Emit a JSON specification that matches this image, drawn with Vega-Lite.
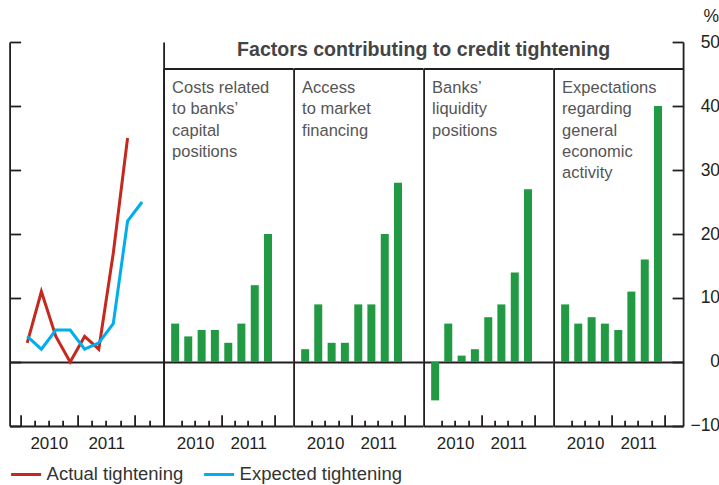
{
  "$schema": "https://vega.github.io/schema/vega-lite/v6.json",
  "padding": {"left": 8.6, "top": 7, "right": 0, "bottom": 0},
  "config": {
    "font": "Liberation Sans",
    "view": {"stroke": null},
    "axis": {"grid": false, "domainColor": "#231f20", "tickColor": "#231f20", "gridColor": "#231f20", "gridWidth": 1.8, "domainWidth": 1.8, "tickWidth": 1.8, "labelFont": "Liberation Sans", "labelFontSize": 17, "labelColor": "#231f20", "labelFlush": false, "labelOverlap": false}
  },
  "datasets": {
    "lines": [
      {"series": "Actual tightening", "date": "2010-02-15", "value": 3},
      {"series": "Actual tightening", "date": "2010-05-16", "value": 11},
      {"series": "Actual tightening", "date": "2010-08-16", "value": 4},
      {"series": "Actual tightening", "date": "2010-11-15", "value": 0},
      {"series": "Actual tightening", "date": "2011-02-15", "value": 4},
      {"series": "Actual tightening", "date": "2011-05-16", "value": 2},
      {"series": "Actual tightening", "date": "2011-08-16", "value": 17},
      {"series": "Actual tightening", "date": "2011-11-15", "value": 35},
      {"series": "Expected tightening", "date": "2010-02-15", "value": 4},
      {"series": "Expected tightening", "date": "2010-05-16", "value": 2},
      {"series": "Expected tightening", "date": "2010-08-16", "value": 5},
      {"series": "Expected tightening", "date": "2010-11-15", "value": 5},
      {"series": "Expected tightening", "date": "2011-02-15", "value": 2},
      {"series": "Expected tightening", "date": "2011-05-16", "value": 3},
      {"series": "Expected tightening", "date": "2011-08-16", "value": 6},
      {"series": "Expected tightening", "date": "2011-11-15", "value": 22},
      {"series": "Expected tightening", "date": "2012-02-15", "value": 25}
    ],
    "bars": [
      {"factor": "capital", "date": "2010-02-15", "value": 6},
      {"factor": "capital", "date": "2010-05-16", "value": 4},
      {"factor": "capital", "date": "2010-08-16", "value": 5},
      {"factor": "capital", "date": "2010-11-15", "value": 5},
      {"factor": "capital", "date": "2011-02-15", "value": 3},
      {"factor": "capital", "date": "2011-05-16", "value": 6},
      {"factor": "capital", "date": "2011-08-16", "value": 12},
      {"factor": "capital", "date": "2011-11-15", "value": 20},
      {"factor": "market", "date": "2010-02-15", "value": 2},
      {"factor": "market", "date": "2010-05-16", "value": 9},
      {"factor": "market", "date": "2010-08-16", "value": 3},
      {"factor": "market", "date": "2010-11-15", "value": 3},
      {"factor": "market", "date": "2011-02-15", "value": 9},
      {"factor": "market", "date": "2011-05-16", "value": 9},
      {"factor": "market", "date": "2011-08-16", "value": 20},
      {"factor": "market", "date": "2011-11-15", "value": 28},
      {"factor": "liquidity", "date": "2010-02-15", "value": -6},
      {"factor": "liquidity", "date": "2010-05-16", "value": 6},
      {"factor": "liquidity", "date": "2010-08-16", "value": 1},
      {"factor": "liquidity", "date": "2010-11-15", "value": 2},
      {"factor": "liquidity", "date": "2011-02-15", "value": 7},
      {"factor": "liquidity", "date": "2011-05-16", "value": 9},
      {"factor": "liquidity", "date": "2011-08-16", "value": 14},
      {"factor": "liquidity", "date": "2011-11-15", "value": 27},
      {"factor": "expectations", "date": "2010-02-15", "value": 9},
      {"factor": "expectations", "date": "2010-05-16", "value": 6},
      {"factor": "expectations", "date": "2010-08-16", "value": 7},
      {"factor": "expectations", "date": "2010-11-15", "value": 6},
      {"factor": "expectations", "date": "2011-02-15", "value": 5},
      {"factor": "expectations", "date": "2011-05-16", "value": 11},
      {"factor": "expectations", "date": "2011-08-16", "value": 16},
      {"factor": "expectations", "date": "2011-11-15", "value": 40}
    ]
  },
  "bounds": "flush",
  "spacing": 0,
  "hconcat": [
    {
      "width": 154,
      "height": 384,
      "layer": [
        {
          "data": {"name": "lines"},
          "mark": {"type": "point", "opacity": 0},
          "encoding": {
            "x": {"field": "date", "type": "temporal",
                  "scale": {"domain": [{"year": 2009, "month": 10, "date": 26, "utc": true}, {"year": 2012, "month": 7, "date": 1, "utc": true}], "nice": false},
                  "axis": {"orient": "bottom", "title": null, "labels": false, "domain": false, "tickSize": -11.3,
                           "values": [{"year": 2010, "month": 1, "date": 1, "utc": true}, {"year": 2011, "month": 1, "date": 1, "utc": true}, {"year": 2012, "month": 1, "date": 1, "utc": true}]}},
            "y": {"field": "value", "type": "quantitative", "scale": {"domain": [-10, 50], "nice": false, "zero": false},
                  "axis": {"orient": "right", "ticks": false, "labels": false, "domain": true, "title": null, "grid": true, "values": [0]}}
          }
        },
        {
          "data": {"name": "lines"},
          "mark": {"type": "line", "strokeWidth": 3},
          "encoding": {
            "x": {"field": "date", "type": "temporal",
                  "scale": {"domain": [{"year": 2009, "month": 10, "date": 26, "utc": true}, {"year": 2012, "month": 7, "date": 1, "utc": true}], "nice": false},
                  "axis": {"orient": "bottom", "title": null, "labels": false, "domain": true, "tickSize": -5.7,
                           "values": [{"year": 2010, "month": 4, "date": 1, "utc": true}, {"year": 2010, "month": 7, "date": 1, "utc": true}, {"year": 2010, "month": 10, "date": 1, "utc": true}, {"year": 2011, "month": 4, "date": 1, "utc": true}, {"year": 2011, "month": 7, "date": 1, "utc": true}, {"year": 2011, "month": 10, "date": 1, "utc": true}, {"year": 2012, "month": 4, "date": 1, "utc": true}]}},
            "y": {"field": "value", "type": "quantitative", "scale": {"domain": [-10, 50], "nice": false, "zero": false},
                  "axis": {"orient": "left", "title": null, "labels": false, "domain": true, "tickSize": -11, "values": [-10, 0, 10, 20, 30, 40, 50]}},
            "color": {"field": "series", "type": "nominal",
                      "scale": {"domain": ["Actual tightening", "Expected tightening"], "range": ["#c4281f", "#00aeef"]},
                      "legend": {"orient": "none", "legendX": 0, "legendY": 416, "direction": "horizontal", "title": null,
                                 "symbolType": "stroke", "symbolStrokeWidth": 3, "symbolSize": 900,
                                 "labelFontSize": 18.5, "labelColor": "#333333", "labelFont": "Liberation Sans", "labelLimit": 0,
                                 "columnPadding": 14, "labelOffset": 4}}
          }
        },
        {
          "data": {"name": "lines"},
          "mark": {"type": "point", "opacity": 0},
          "encoding": {
            "x": {"field": "date", "type": "temporal",
                  "scale": {"domain": [{"year": 2009, "month": 10, "date": 26, "utc": true}, {"year": 2012, "month": 7, "date": 1, "utc": true}], "nice": false},
                  "axis": {"orient": "bottom", "title": null, "ticks": false, "domain": false, "labelPadding": 10, "format": "%Y",
                           "values": [{"year": 2010, "month": 7, "date": 2, "utc": true}, {"year": 2011, "month": 7, "date": 2, "utc": true}]}}
          }
        }
      ],
      "resolve": {"axis": {"x": "independent", "y": "independent"}}
    },
    {
      "width": 129.5, "height": 384,
      "layer": [
        {
          "data": {"name": "bars"},
          "transform": [{"filter": {"field": "factor", "equal": "capital"}}],
          "mark": {"type": "bar", "color": "#219a43", "size": 8},
          "encoding": {
            "x": {"field": "date", "type": "temporal",
                  "scale": {"domain": [{"year": 2010, "month": 1, "date": 1, "utc": true}, {"year": 2012, "month": 4, "date": 1, "utc": true}], "nice": false},
                  "axis": {"orient": "bottom", "title": null, "labels": false, "domain": true, "tickSize": -5.7,
                           "values": [{"year": 2010, "month": 4, "date": 1, "utc": true}, {"year": 2010, "month": 7, "date": 1, "utc": true}, {"year": 2010, "month": 10, "date": 1, "utc": true}, {"year": 2011, "month": 4, "date": 1, "utc": true}, {"year": 2011, "month": 7, "date": 1, "utc": true}, {"year": 2011, "month": 10, "date": 1, "utc": true}]}},
            "y": {"field": "value", "type": "quantitative", "scale": {"domain": [-10, 45.86], "rangeMax": 26.5, "nice": false, "zero": false},
                  "axis": {"orient": "left", "domain": true, "ticks": false, "labels": false, "grid": true, "values": [0],
                           "title": ["Costs related", "to banks’", "capital", "positions"], "titleAngle": 0, "titleAlign": "left", "titleBaseline": "top",
                           "titleX": 8, "titleY": 37.5, "titleFontSize": 16.5, "titleLineHeight": 21.3, "titleFontWeight": "normal", "titleColor": "#555555", "titleFont": "Liberation Sans"}}
          }
        },
        {
          "data": {"name": "bars"},
          "transform": [{"filter": {"field": "factor", "equal": "capital"}}],
          "mark": {"type": "point", "opacity": 0},
          "encoding": {
            "x": {"field": "date", "type": "temporal",
                  "scale": {"domain": [{"year": 2010, "month": 1, "date": 1, "utc": true}, {"year": 2012, "month": 4, "date": 1, "utc": true}], "nice": false},
                  "axis": {"orient": "bottom", "title": null, "labels": false, "domain": false, "tickSize": -11.3,
                           "values": [{"year": 2011, "month": 1, "date": 1, "utc": true}, {"year": 2012, "month": 1, "date": 1, "utc": true}]}}
          }
        },
        {
          "data": {"name": "bars"},
          "transform": [{"filter": {"field": "factor", "equal": "capital"}}],
          "mark": {"type": "point", "opacity": 0},
          "encoding": {
            "x": {"field": "date", "type": "temporal",
                  "scale": {"domain": [{"year": 2010, "month": 1, "date": 1, "utc": true}, {"year": 2012, "month": 4, "date": 1, "utc": true}], "nice": false},
                  "axis": {"orient": "bottom", "title": null, "ticks": false, "domain": false, "labelPadding": 10, "format": "%Y",
                           "values": [{"year": 2010, "month": 7, "date": 2, "utc": true}, {"year": 2011, "month": 7, "date": 2, "utc": true}]}}
          }
        },
        {
          "data": {"name": "bars"},
          "transform": [{"filter": {"field": "factor", "equal": "capital"}}],
          "mark": {"type": "point", "opacity": 0},
          "encoding": {
            "x": {"field": "date", "type": "temporal",
                  "scale": {"domain": [{"year": 2010, "month": 1, "date": 1, "utc": true}, {"year": 2012, "month": 4, "date": 1, "utc": true}], "nice": false},
                  "axis": {"orient": "top", "title": null, "ticks": false, "labels": false, "domain": true, "offset": -26.5}}
          }
        }
      ],
      "resolve": {"axis": {"x": "independent", "y": "independent"}}
    },
    {
      "width": 129.5, "height": 384,
      "layer": [
        {
          "data": {"name": "bars"},
          "transform": [{"filter": {"field": "factor", "equal": "market"}}],
          "mark": {"type": "bar", "color": "#219a43", "size": 8},
          "encoding": {
            "x": {"field": "date", "type": "temporal",
                  "scale": {"domain": [{"year": 2010, "month": 1, "date": 1, "utc": true}, {"year": 2012, "month": 4, "date": 1, "utc": true}], "nice": false},
                  "axis": {"orient": "bottom", "title": null, "labels": false, "domain": true, "tickSize": -5.7,
                           "values": [{"year": 2010, "month": 4, "date": 1, "utc": true}, {"year": 2010, "month": 7, "date": 1, "utc": true}, {"year": 2010, "month": 10, "date": 1, "utc": true}, {"year": 2011, "month": 4, "date": 1, "utc": true}, {"year": 2011, "month": 7, "date": 1, "utc": true}, {"year": 2011, "month": 10, "date": 1, "utc": true}]}},
            "y": {"field": "value", "type": "quantitative", "scale": {"domain": [-10, 45.86], "rangeMax": 26.5, "nice": false, "zero": false},
                  "axis": {"orient": "left", "domain": true, "ticks": false, "labels": false, "grid": true, "values": [0],
                           "title": ["Access", "to market", "financing"], "titleAngle": 0, "titleAlign": "left", "titleBaseline": "top",
                           "titleX": 8, "titleY": 37.5, "titleFontSize": 16.5, "titleLineHeight": 21.3, "titleFontWeight": "normal", "titleColor": "#555555", "titleFont": "Liberation Sans"}}
          }
        },
        {
          "data": {"name": "bars"},
          "transform": [{"filter": {"field": "factor", "equal": "market"}}],
          "mark": {"type": "point", "opacity": 0},
          "encoding": {
            "x": {"field": "date", "type": "temporal",
                  "scale": {"domain": [{"year": 2010, "month": 1, "date": 1, "utc": true}, {"year": 2012, "month": 4, "date": 1, "utc": true}], "nice": false},
                  "axis": {"orient": "bottom", "title": null, "labels": false, "domain": false, "tickSize": -11.3,
                           "values": [{"year": 2011, "month": 1, "date": 1, "utc": true}, {"year": 2012, "month": 1, "date": 1, "utc": true}]}}
          }
        },
        {
          "data": {"name": "bars"},
          "transform": [{"filter": {"field": "factor", "equal": "market"}}],
          "mark": {"type": "point", "opacity": 0},
          "encoding": {
            "x": {"field": "date", "type": "temporal",
                  "scale": {"domain": [{"year": 2010, "month": 1, "date": 1, "utc": true}, {"year": 2012, "month": 4, "date": 1, "utc": true}], "nice": false},
                  "axis": {"orient": "bottom", "title": null, "ticks": false, "domain": false, "labelPadding": 10, "format": "%Y",
                           "values": [{"year": 2010, "month": 7, "date": 2, "utc": true}, {"year": 2011, "month": 7, "date": 2, "utc": true}]}}
          }
        },
        {
          "data": {"name": "bars"},
          "transform": [{"filter": {"field": "factor", "equal": "market"}}],
          "mark": {"type": "point", "opacity": 0},
          "encoding": {
            "x": {"field": "date", "type": "temporal",
                  "scale": {"domain": [{"year": 2010, "month": 1, "date": 1, "utc": true}, {"year": 2012, "month": 4, "date": 1, "utc": true}], "nice": false},
                  "axis": {"orient": "top", "title": null, "ticks": false, "labels": false, "domain": true, "offset": -26.5}}
          }
        }
      ],
      "resolve": {"axis": {"x": "independent", "y": "independent"}}
    },
    {
      "width": 129.5, "height": 384,
      "title": {"text": "Factors contributing to credit tightening", "anchor": "start", "align": "center", "frame": "group", "baseline": "top", "offset": -18.2, "fontSize": 19.6, "fontWeight": "bold", "color": "#444444", "font": "Liberation Sans"},
      "layer": [
        {
          "data": {"name": "bars"},
          "transform": [{"filter": {"field": "factor", "equal": "liquidity"}}],
          "mark": {"type": "bar", "color": "#219a43", "size": 8},
          "encoding": {
            "x": {"field": "date", "type": "temporal",
                  "scale": {"domain": [{"year": 2010, "month": 1, "date": 1, "utc": true}, {"year": 2012, "month": 4, "date": 1, "utc": true}], "nice": false},
                  "axis": {"orient": "bottom", "title": null, "labels": false, "domain": true, "tickSize": -5.7,
                           "values": [{"year": 2010, "month": 4, "date": 1, "utc": true}, {"year": 2010, "month": 7, "date": 1, "utc": true}, {"year": 2010, "month": 10, "date": 1, "utc": true}, {"year": 2011, "month": 4, "date": 1, "utc": true}, {"year": 2011, "month": 7, "date": 1, "utc": true}, {"year": 2011, "month": 10, "date": 1, "utc": true}]}},
            "y": {"field": "value", "type": "quantitative", "scale": {"domain": [-10, 45.86], "rangeMax": 26.5, "nice": false, "zero": false},
                  "axis": {"orient": "left", "domain": true, "ticks": false, "labels": false, "grid": true, "values": [0],
                           "title": ["Banks’", "liquidity", "positions"], "titleAngle": 0, "titleAlign": "left", "titleBaseline": "top",
                           "titleX": 8, "titleY": 37.5, "titleFontSize": 16.5, "titleLineHeight": 21.3, "titleFontWeight": "normal", "titleColor": "#555555", "titleFont": "Liberation Sans"}}
          }
        },
        {
          "data": {"name": "bars"},
          "transform": [{"filter": {"field": "factor", "equal": "liquidity"}}],
          "mark": {"type": "point", "opacity": 0},
          "encoding": {
            "x": {"field": "date", "type": "temporal",
                  "scale": {"domain": [{"year": 2010, "month": 1, "date": 1, "utc": true}, {"year": 2012, "month": 4, "date": 1, "utc": true}], "nice": false},
                  "axis": {"orient": "bottom", "title": null, "labels": false, "domain": false, "tickSize": -11.3,
                           "values": [{"year": 2011, "month": 1, "date": 1, "utc": true}, {"year": 2012, "month": 1, "date": 1, "utc": true}]}}
          }
        },
        {
          "data": {"name": "bars"},
          "transform": [{"filter": {"field": "factor", "equal": "liquidity"}}],
          "mark": {"type": "point", "opacity": 0},
          "encoding": {
            "x": {"field": "date", "type": "temporal",
                  "scale": {"domain": [{"year": 2010, "month": 1, "date": 1, "utc": true}, {"year": 2012, "month": 4, "date": 1, "utc": true}], "nice": false},
                  "axis": {"orient": "bottom", "title": null, "ticks": false, "domain": false, "labelPadding": 10, "format": "%Y",
                           "values": [{"year": 2010, "month": 7, "date": 2, "utc": true}, {"year": 2011, "month": 7, "date": 2, "utc": true}]}}
          }
        },
        {
          "data": {"name": "bars"},
          "transform": [{"filter": {"field": "factor", "equal": "liquidity"}}],
          "mark": {"type": "point", "opacity": 0},
          "encoding": {
            "x": {"field": "date", "type": "temporal",
                  "scale": {"domain": [{"year": 2010, "month": 1, "date": 1, "utc": true}, {"year": 2012, "month": 4, "date": 1, "utc": true}], "nice": false},
                  "axis": {"orient": "top", "title": null, "ticks": false, "labels": false, "domain": true, "offset": -26.5}}
          }
        }
      ],
      "resolve": {"axis": {"x": "independent", "y": "independent"}}
    },
    {
      "width": 129.5, "height": 384,
      "layer": [
        {
          "data": {"name": "bars"},
          "transform": [{"filter": {"field": "factor", "equal": "expectations"}}],
          "mark": {"type": "bar", "color": "#219a43", "size": 8},
          "encoding": {
            "x": {"field": "date", "type": "temporal",
                  "scale": {"domain": [{"year": 2010, "month": 1, "date": 1, "utc": true}, {"year": 2012, "month": 4, "date": 1, "utc": true}], "nice": false},
                  "axis": {"orient": "bottom", "title": null, "labels": false, "domain": true, "tickSize": -5.7,
                           "values": [{"year": 2010, "month": 4, "date": 1, "utc": true}, {"year": 2010, "month": 7, "date": 1, "utc": true}, {"year": 2010, "month": 10, "date": 1, "utc": true}, {"year": 2011, "month": 4, "date": 1, "utc": true}, {"year": 2011, "month": 7, "date": 1, "utc": true}, {"year": 2011, "month": 10, "date": 1, "utc": true}]}},
            "y": {"field": "value", "type": "quantitative", "scale": {"domain": [-10, 45.86], "rangeMax": 26.5, "nice": false, "zero": false},
                  "axis": {"orient": "left", "domain": true, "ticks": false, "labels": false, "grid": true, "values": [0],
                           "title": ["Expectations", "regarding", "general", "economic", "activity"], "titleAngle": 0, "titleAlign": "left", "titleBaseline": "top",
                           "titleX": 8, "titleY": 37.5, "titleFontSize": 16.5, "titleLineHeight": 21.3, "titleFontWeight": "normal", "titleColor": "#555555", "titleFont": "Liberation Sans"}}
          }
        },
        {
          "data": {"name": "bars"},
          "transform": [{"filter": {"field": "factor", "equal": "expectations"}}],
          "mark": {"type": "point", "opacity": 0},
          "encoding": {
            "x": {"field": "date", "type": "temporal",
                  "scale": {"domain": [{"year": 2010, "month": 1, "date": 1, "utc": true}, {"year": 2012, "month": 4, "date": 1, "utc": true}], "nice": false},
                  "axis": {"orient": "bottom", "title": null, "labels": false, "domain": false, "tickSize": -11.3,
                           "values": [{"year": 2011, "month": 1, "date": 1, "utc": true}, {"year": 2012, "month": 1, "date": 1, "utc": true}]}}
          }
        },
        {
          "data": {"name": "bars"},
          "transform": [{"filter": {"field": "factor", "equal": "expectations"}}],
          "mark": {"type": "point", "opacity": 0},
          "encoding": {
            "x": {"field": "date", "type": "temporal",
                  "scale": {"domain": [{"year": 2010, "month": 1, "date": 1, "utc": true}, {"year": 2012, "month": 4, "date": 1, "utc": true}], "nice": false},
                  "axis": {"orient": "bottom", "title": null, "ticks": false, "domain": false, "labelPadding": 10, "format": "%Y",
                           "values": [{"year": 2010, "month": 7, "date": 2, "utc": true}, {"year": 2011, "month": 7, "date": 2, "utc": true}]}}
          }
        },
        {
          "data": {"name": "bars"},
          "transform": [{"filter": {"field": "factor", "equal": "expectations"}}],
          "mark": {"type": "point", "opacity": 0},
          "encoding": {
            "x": {"field": "date", "type": "temporal",
                  "scale": {"domain": [{"year": 2010, "month": 1, "date": 1, "utc": true}, {"year": 2012, "month": 4, "date": 1, "utc": true}], "nice": false},
                  "axis": {"orient": "top", "title": null, "ticks": false, "labels": false, "domain": true, "offset": -26.5}}
          }
        },
        {
          "data": {"name": "bars"},
          "transform": [{"filter": {"field": "factor", "equal": "expectations"}}],
          "mark": {"type": "point", "opacity": 0},
          "encoding": {
            "x": {"field": "date", "type": "temporal",
                  "scale": {"domain": [{"year": 2010, "month": 1, "date": 1, "utc": true}, {"year": 2012, "month": 4, "date": 1, "utc": true}], "nice": false},
                  "axis": null},
            "y": {"field": "value", "type": "quantitative", "scale": {"domain": [-10, 50], "nice": false, "zero": false},
                  "axis": {"orient": "right", "domain": true, "ticks": true, "tickSize": -11, "labels": true, "labelPadding": 47.5, "labelAlign": "right", "labelFontSize": 17.5,
                           "values": [-10, 0, 10, 20, 30, 40, 50],
                           "title": "%", "titleAngle": 0, "titleAlign": "right", "titleBaseline": "alphabetic", "titleX": 35.5, "titleY": -20.7,
                           "titleFontSize": 17.5, "titleFontWeight": "normal", "titleColor": "#231f20", "titleFont": "Liberation Sans"}}
          }
        }
      ],
      "resolve": {"scale": {"y": "independent"}, "axis": {"x": "independent", "y": "independent"}}
    }
  ]
}
